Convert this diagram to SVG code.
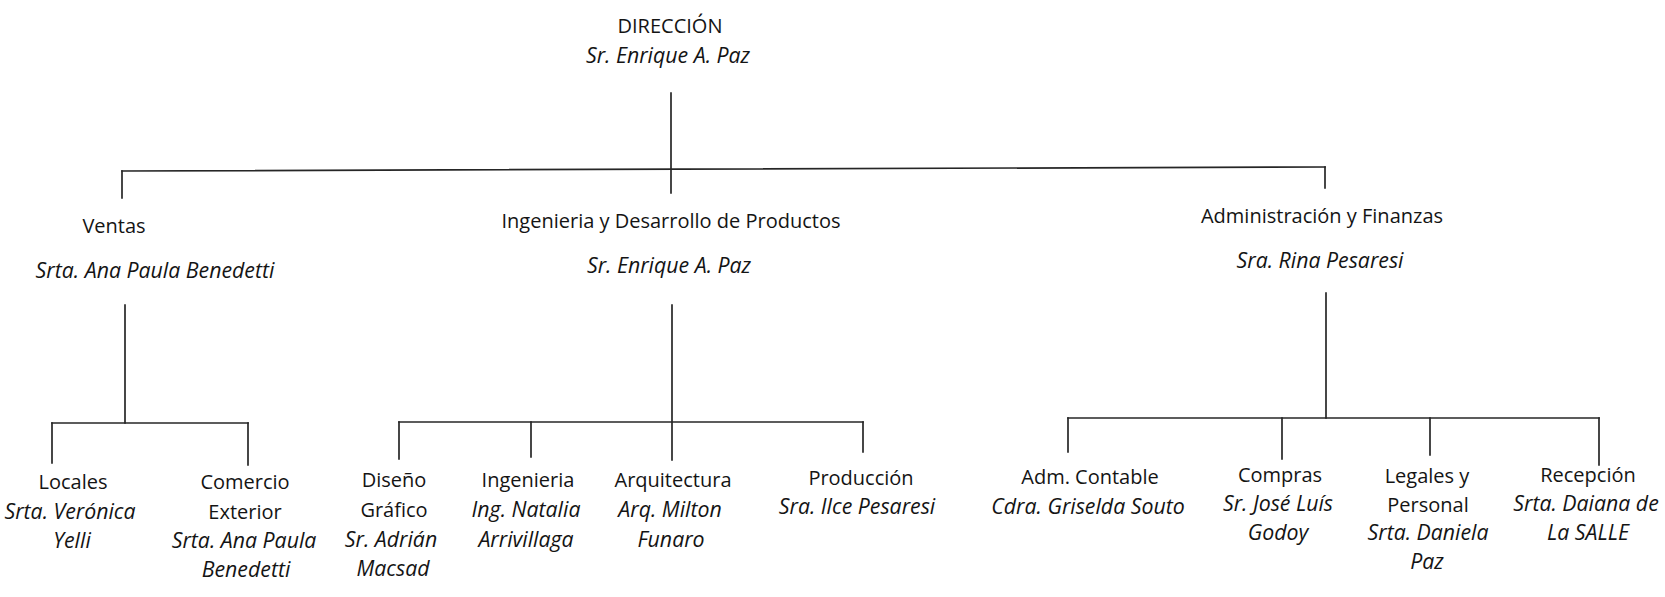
<svg xmlns="http://www.w3.org/2000/svg" width="1665" height="597" viewBox="0 0 1665 597">
<style>
  text { font-family: "Open Sans", "Noto Sans", "Liberation Sans", sans-serif; font-size: 20px; fill: #141414; text-anchor: middle; }
  .i { font-style: italic; font-size: 21.3px; }
  .c line { stroke: #262626; stroke-width: 1.7; fill: none; stroke-linecap: square; }
</style>
<rect width="1665" height="597" fill="#ffffff"/>

<g id="connectors" class="c">
  <line x1="671" y1="93" x2="671" y2="193"/>
  <line x1="122" y1="171" x2="1325" y2="167"/>
  <line x1="122" y1="171" x2="122" y2="198"/>
  <line x1="1325" y1="167" x2="1325" y2="188"/>

  <line x1="125" y1="305" x2="125" y2="423"/>
  <line x1="52" y1="423" x2="248" y2="423"/>
  <line x1="52" y1="423" x2="52" y2="463"/>
  <line x1="248" y1="423" x2="248" y2="465"/>

  <line x1="672" y1="305" x2="672" y2="460"/>
  <line x1="399" y1="422" x2="863" y2="422"/>
  <line x1="399" y1="422" x2="399" y2="459"/>
  <line x1="531" y1="422" x2="531" y2="457"/>
  <line x1="863" y1="422" x2="863" y2="452"/>

  <line x1="1326" y1="293" x2="1326" y2="418"/>
  <line x1="1068" y1="418" x2="1599" y2="418"/>
  <line x1="1068" y1="418" x2="1068" y2="452"/>
  <line x1="1282" y1="418" x2="1282" y2="459"/>
  <line x1="1430" y1="418" x2="1430" y2="455"/>
  <line x1="1599" y1="418" x2="1599" y2="465"/>
</g>

<g id="direccion">
  <text x="670" y="33">DIRECCIÓN</text>
  <text class="i" x="668" y="63">Sr. Enrique A. Paz</text>
</g>

<g id="ventas">
  <text x="114" y="233">Ventas</text>
  <text class="i" x="155" y="278">Srta. Ana Paula Benedetti</text>
</g>

<g id="ingenieria-desarrollo">
  <text x="671" y="228">Ingenieria y Desarrollo de Productos</text>
  <text class="i" x="669" y="273">Sr. Enrique A. Paz</text>
</g>

<g id="administracion">
  <text x="1322" y="223">Administración y Finanzas</text>
  <text class="i" x="1320" y="268">Sra. Rina Pesaresi</text>
</g>

<g id="locales">
  <text x="73" y="489">Locales</text>
  <text class="i" x="70" y="519">Srta. Verónica</text>
  <text class="i" x="72" y="548">Yelli</text>
</g>

<g id="comercio-exterior">
  <text x="245" y="489">Comercio</text>
  <text x="245" y="519">Exterior</text>
  <text class="i" x="244" y="548">Srta. Ana Paula</text>
  <text class="i" x="246" y="577">Benedetti</text>
</g>

<g id="diseno-grafico">
  <text x="394" y="487">Diseño</text>
  <text x="394" y="517">Gráfico</text>
  <text class="i" x="391" y="547">Sr. Adrián</text>
  <text class="i" x="393" y="576">Macsad</text>
</g>

<g id="ingenieria">
  <text x="528" y="487">Ingenieria</text>
  <text class="i" x="526" y="517">Ing. Natalia</text>
  <text class="i" x="526" y="547">Arrivillaga</text>
</g>

<g id="arquitectura">
  <text x="673" y="487">Arquitectura</text>
  <text class="i" x="670" y="517">Arq. Milton</text>
  <text class="i" x="671" y="547">Funaro</text>
</g>

<g id="produccion">
  <text x="861" y="485">Producción</text>
  <text class="i" x="857" y="514">Sra. Ilce Pesaresi</text>
</g>

<g id="adm-contable">
  <text x="1090" y="484">Adm. Contable</text>
  <text class="i" x="1088" y="514">Cdra. Griselda Souto</text>
</g>

<g id="compras">
  <text x="1280" y="482">Compras</text>
  <text class="i" x="1278" y="511">Sr. José Luís</text>
  <text class="i" x="1278" y="540">Godoy</text>
</g>

<g id="legales-personal">
  <text x="1427" y="483">Legales y</text>
  <text x="1428" y="512">Personal</text>
  <text class="i" x="1428" y="540">Srta. Daniela</text>
  <text class="i" x="1427" y="569">Paz</text>
</g>

<g id="recepcion">
  <text x="1588" y="482">Recepción</text>
  <text class="i" x="1586" y="511">Srta. Daiana de</text>
  <text class="i" x="1588" y="540">La SALLE</text>
</g>
</svg>
